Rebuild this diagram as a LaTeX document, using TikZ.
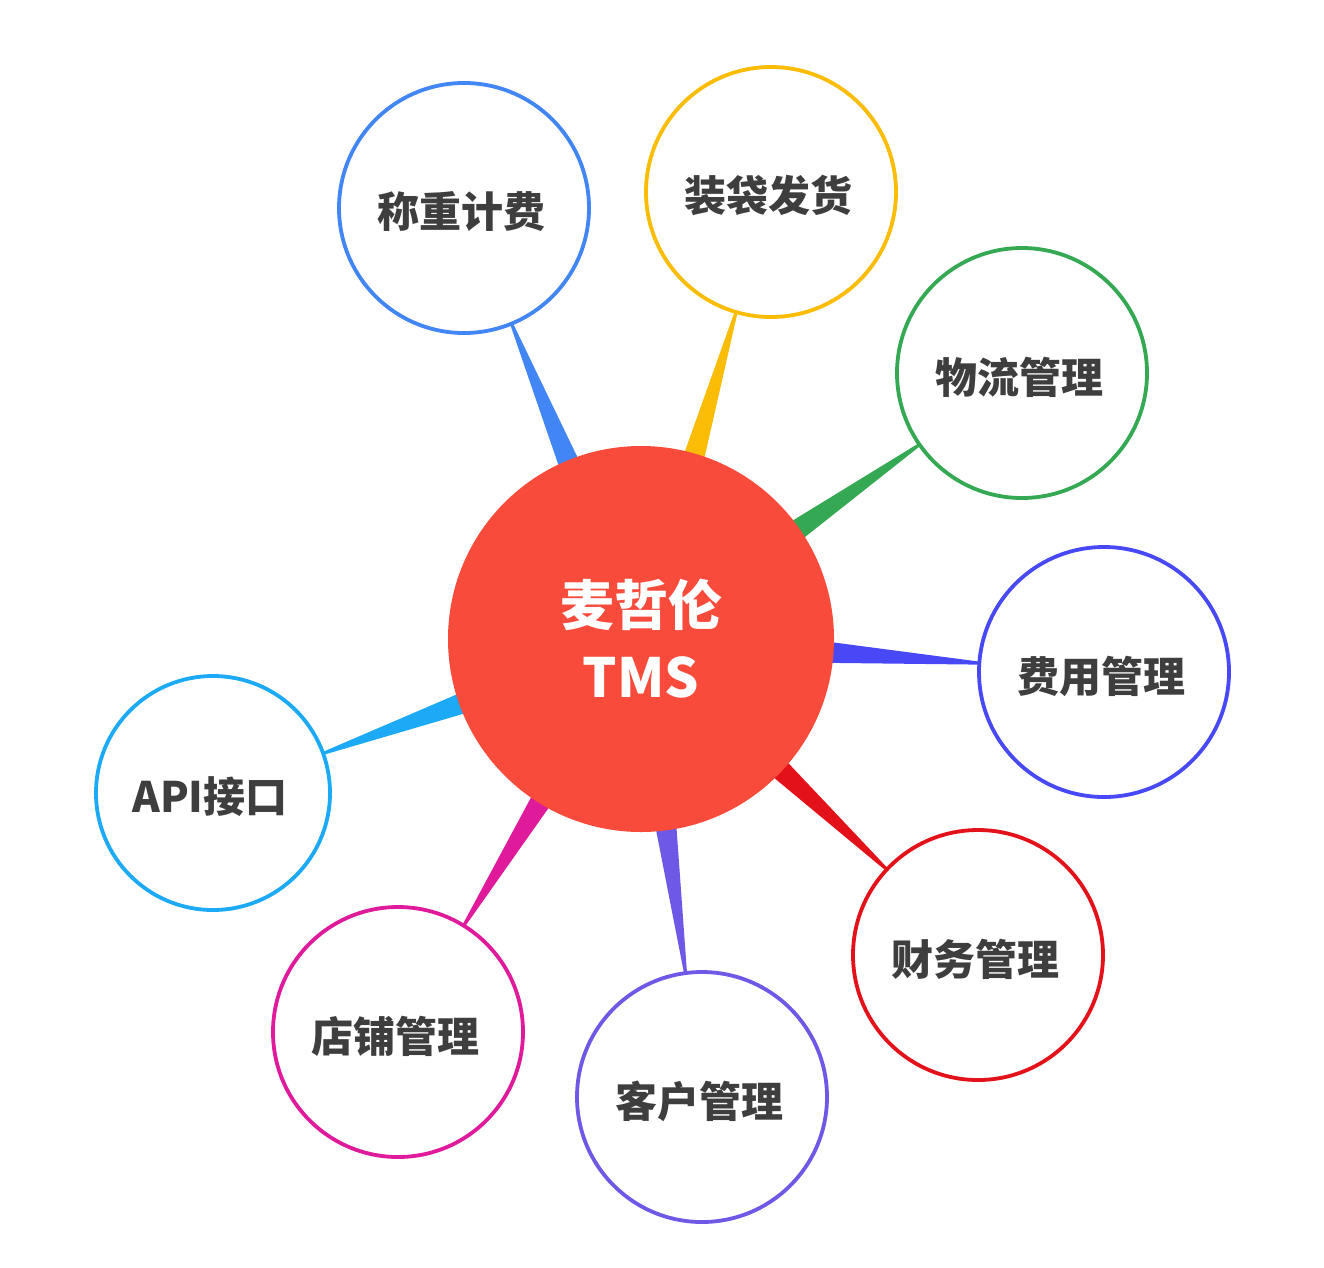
\documentclass[tikz,border=0pt]{standalone}
\usepackage{fontspec}
\setmainfont{Noto Sans CJK SC}
\usetikzlibrary{calc,backgrounds}
\definecolor{cBlue}{HTML}{4285F4}
\definecolor{cYellow}{HTML}{FBBC05}
\definecolor{cGreen}{HTML}{34A853}
\definecolor{cIndigo}{HTML}{4848F6}
\definecolor{cRed}{HTML}{E3121A}
\definecolor{cPurple}{HTML}{6E58E6}
\definecolor{cMagenta}{HTML}{DF1A9B}
\definecolor{cSky}{HTML}{1CAAF6}
\definecolor{cMain}{HTML}{F84B3C}
\definecolor{cText}{HTML}{3E3E3E}
\newcommand\wedgeconn[4]{% #1 satellite, #2 its radius, #3 main, #4 colour
  \fill[#4]
    ($(#1.center)!#2!(#3.center)!1.5pt!90:(#3.center)$) --
    ($(#1.center)!#2!(#3.center)!1.5pt!-90:(#3.center)$) --
    ($(#3.center)!163pt!(#1.center)!12pt!90:(#1.center)$) --
    ($(#3.center)!163pt!(#1.center)!12pt!-90:(#1.center)$) -- cycle;
}
\newcommand\lowtxt[1]{\raisebox{-4pt}[\height][\depth]{\kern-3pt #1\kern3pt}}
\tikzset{
  sat/.style={circle, draw=#1, line width=3.8pt, fill=white, inner sep=0pt,
    minimum size=250pt, text=cText, font=\fontsize{42}{50}\selectfont\bfseries},
  mainnode/.style={circle, fill=cMain, inner sep=0pt, minimum size=386pt,
    text=white, align=center, font=\fontsize{54}{72}\selectfont\bfseries}
}
\begin{document}
\begin{tikzpicture}[x=1pt,y=-1pt]
\useasboundingbox (0,0) rectangle (1324,1267);
\node[mainnode] (m) at (641,639) {麦哲伦\\TMS};
\node[sat=cBlue] (s1) at (464,208) {\lowtxt{称重计费}};
\node[sat=cYellow] (s2) at (771,192) {\lowtxt{装袋发货}};
\node[sat=cGreen] (s3) at (1022,373) {\lowtxt{物流管理}};
\node[sat=cIndigo] (s4) at (1104,672) {\lowtxt{费用管理}};
\node[sat=cRed] (s5) at (978,955) {\lowtxt{财务管理}};
\node[sat=cPurple] (s6) at (702,1097) {\lowtxt{客户管理}};
\node[sat=cMagenta] (s7) at (398,1032) {\lowtxt{店铺管理}};
\node[sat=cSky, minimum size=234pt] (s8) at (213,793) {\lowtxt{API接口}};
\begin{scope}[on background layer]
\wedgeconn{s1}{125pt}{m}{cBlue}
\wedgeconn{s2}{125pt}{m}{cYellow}
\wedgeconn{s3}{125pt}{m}{cGreen}
\wedgeconn{s4}{125pt}{m}{cIndigo}
\wedgeconn{s5}{125pt}{m}{cRed}
\wedgeconn{s6}{125pt}{m}{cPurple}
\wedgeconn{s7}{125pt}{m}{cMagenta}
\wedgeconn{s8}{117pt}{m}{cSky}
\end{scope}
\end{tikzpicture}
\end{document}
